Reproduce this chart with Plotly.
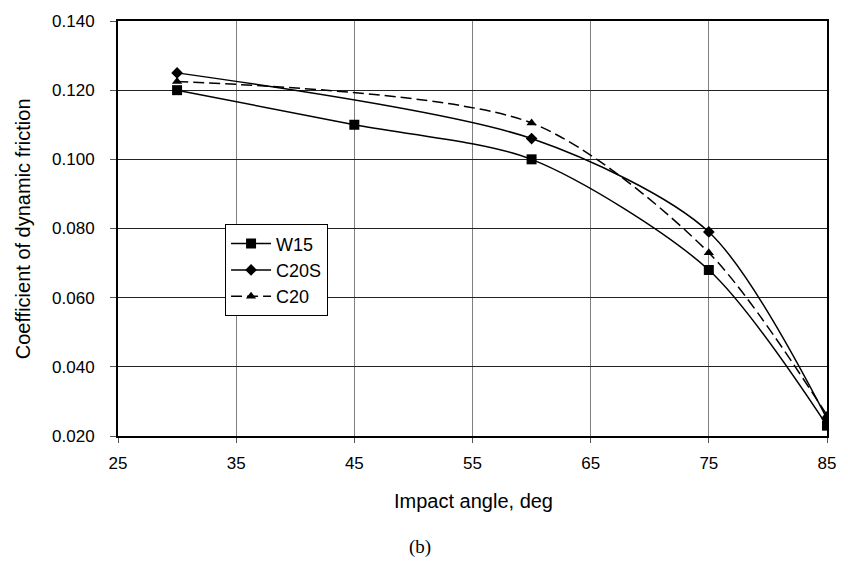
import plotly.graph_objects as go

# Data
w15_x = [30, 45, 60, 75, 85]
w15_y = [0.120, 0.110, 0.100, 0.068, 0.023]
c20s_x = [30, 60, 75, 85]
c20s_y = [0.125, 0.106, 0.079, 0.025]
c20_x = [30, 60, 75, 85]
c20_y = [0.1225, 0.1105, 0.073, 0.026]
x_ticks = [25, 35, 45, 55, 65, 75, 85]
y_ticks = [0.020, 0.040, 0.060, 0.080, 0.100, 0.120, 0.140]

fig = go.Figure()
fig.add_trace(go.Scatter(
    x=w15_x, y=w15_y, name="W15", mode="lines+markers",
    line=dict(color="black", width=1.5, shape="spline", smoothing=0.8),
    marker=dict(symbol="square", size=10, color="black")))
fig.add_trace(go.Scatter(
    x=c20s_x, y=c20s_y, name="C20S", mode="lines+markers",
    line=dict(color="black", width=1.5, shape="spline", smoothing=0.8),
    marker=dict(symbol="diamond", size=9, color="black")))
fig.add_trace(go.Scatter(
    x=c20_x, y=c20_y, name="C20", mode="lines+markers",
    line=dict(color="black", width=1.5, dash="11px,5px", shape="spline", smoothing=0.8),
    marker=dict(symbol="triangle-up", size=9, color="black")))

font_family = "Liberation Sans, Arial, sans-serif"

fig.update_layout(
    width=848, height=563,
    margin=dict(l=118, r=15, t=16, b=127),
    paper_bgcolor="white", plot_bgcolor="white",
    font=dict(family=font_family, color="black", size=16),
    showlegend=True,
    legend=dict(
        x=0.151, y=0.51, xanchor="left", yanchor="top",
        bgcolor="white", bordercolor="black", borderwidth=1,
        font=dict(family=font_family, size=18, color="black"),
        itemwidth=40, tracegroupgap=0),
    xaxis=dict(
        range=[25, 85], tickvals=x_ticks, ticktext=[str(v) for v in x_ticks],
        showgrid=True, gridcolor="#7f7f7f", gridwidth=1,
        showline=True, linecolor="black", linewidth=2, mirror=True,
        ticks="outside", ticklen=5, tickcolor="#555", tickwidth=1,
        tickfont=dict(size=17), ticklabelstandoff=6, zeroline=False),
    yaxis=dict(
        range=[0.020, 0.140], tickvals=y_ticks,
        ticktext=[f"{v:.3f}" for v in y_ticks],
        showgrid=True, gridcolor="#222", gridwidth=1,
        showline=True, linecolor="black", linewidth=2, mirror=True,
        ticks="outside", ticklen=6, tickcolor="#555", tickwidth=1,
        tickfont=dict(size=17), ticklabelstandoff=12, zeroline=False),
    annotations=[
        dict(text="Impact angle, deg", xref="paper", yref="paper",
             x=(477 - 118) / 715, y=-(501.5 - 436) / 420,
             xanchor="center", yanchor="middle", showarrow=False,
             font=dict(family=font_family, size=20)),
        dict(text="Coefficient of dynamic friction", xref="paper", yref="paper",
             x=(22 - 118) / 715, y=(436 - 226) / 420, textangle=-90,
             xanchor="center", yanchor="middle", showarrow=False,
             font=dict(family=font_family, size=20)),
        dict(text="(b)", xref="paper", yref="paper",
             x=(423 - 118) / 715, y=-(548 - 436) / 420,
             xanchor="center", yanchor="middle", showarrow=False,
             font=dict(family="Liberation Serif, Times New Roman, serif", size=19)),
    ],
)

fig.write_html("out.html")
